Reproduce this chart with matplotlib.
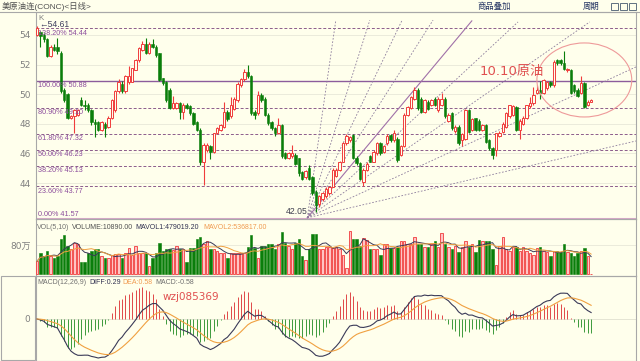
import matplotlib.pyplot as plt
from matplotlib.patches import Ellipse, Rectangle
from matplotlib.lines import Line2D
import numpy as np
import pandas as pd

plt.rcParams['font.family'] = ['DejaVu Sans', 'Noto Sans CJK SC']

# daily candles (美原油连)
opens = [54.0, 54.2, 54.0, 53.7, 52.6, 53.2, 53.2, 52.8, 50.3, 50.0,
         48.4, 48.5, 48.6, 49.6, 49.3, 49.3, 48.9, 48.1, 48.1, 47.6,
         48.0, 47.8, 48.4, 48.9, 50.2, 50.7, 50.2, 50.8, 50.85, 51.65,
         52.3, 53.0, 53.4, 52.8, 53.4, 53.2, 52.76, 51.07, 50.85, 50.3,
         49.05, 49.1, 49.4, 48.8, 49.3, 49.2, 48.7, 48.15, 47.6, 45.44,
         46.2, 46.5, 46.1, 47.36, 47.6, 47.8, 48.8, 48.5, 49.0, 49.6,
         50.6, 51.0, 51.5, 51.2, 48.8, 48.7, 49.95, 49.7, 48.6, 48.1,
         47.7, 47.36, 47.9, 46.0, 45.7, 45.8, 45.9, 45.67, 44.77, 44.4,
         45.0, 44.4, 43.4, 42.6, 42.9, 43.1, 43.3, 43.75, 44.5, 44.9,
         45.45, 46.7, 46.9, 47.24, 45.67, 45.33, 44.1, 44.9, 45.8, 45.45,
         46.0, 46.7, 46.1, 46.7, 47.24, 46.9, 47.0, 45.9, 46.5, 48.6,
         49.05, 49.7, 50.3, 49.7, 48.82, 49.5, 49.3, 49.7, 48.9, 49.3,
         49.7, 48.2, 48.7, 47.5, 47.8, 46.9, 47.0, 48.9, 47.6, 48.37,
         48.2, 47.6, 47.9, 46.9, 46.35, 46.2, 47.2, 47.47, 47.8, 48.5,
         48.6, 49.16, 47.6, 48.0, 48.4, 49.2, 49.4, 50.1, 50.3, 50.06,
         50.4, 50.8, 50.6, 52.3, 52.3, 52.1, 51.6, 51.6, 50.6, 50.3,
         50.06, 50.74, 49.3, 49.5]
closes = [54.45, 53.95, 53.7, 52.6, 53.2, 53.0, 52.9, 50.2, 49.6, 48.4,
          48.5, 48.9, 48.9, 49.3, 49.2, 48.9, 48.1, 48.0, 47.6, 48.1,
          47.7, 48.4, 49.6, 50.2, 50.85, 50.2, 51.2, 51.2, 51.75, 52.3,
          53.1, 53.4, 52.8, 53.4, 53.2, 52.65, 50.96, 50.74, 49.6, 49.05,
          49.4, 49.4, 48.8, 49.3, 49.1, 48.7, 48.0, 47.6, 45.44, 46.57,
          46.6, 46.1, 47.36, 47.7, 47.9, 48.8, 48.3, 49.3, 49.7, 50.7,
          51.0, 51.5, 51.2, 48.7, 48.6, 49.95, 49.6, 48.6, 48.03, 47.7,
          47.36, 47.9, 45.8, 45.7, 46.0, 46.0, 45.3, 44.66, 44.3, 44.8,
          44.3, 43.3, 42.5, 43.1, 43.3, 43.6, 43.75, 44.9, 44.9, 45.45,
          46.7, 47.2, 47.1, 45.67, 45.33, 44.3, 44.9, 45.3, 45.45, 46.1,
          46.7, 46.0, 46.5, 47.2, 46.9, 47.4, 45.56, 46.5, 48.6, 49.16,
          49.84, 50.3, 49.05, 48.82, 49.6, 49.0, 49.6, 49.3, 49.7, 49.7,
          48.5, 48.6, 47.7, 47.8, 46.7, 47.3, 48.9, 47.47, 48.3, 47.6,
          47.6, 47.9, 46.8, 46.35, 45.9, 47.36, 47.4, 48.0, 48.7, 49.27,
          49.2, 47.6, 48.2, 48.4, 49.27, 49.4, 49.95, 50.3, 50.1, 50.96,
          50.8, 50.6, 52.2, 52.1, 52.1, 51.7, 51.7, 50.06, 50.2, 49.9,
          50.74, 49.16, 49.5, 49.6]
highs = [54.61, 54.3, 54.1, 53.8, 53.3, 53.4, 53.8, 52.9, 50.4, 50.1,
         48.6, 49.0, 49.0, 49.8, 49.6, 49.4, 49.0, 48.3, 48.2, 48.2,
         48.1, 48.5, 49.7, 50.3, 51.0, 50.9, 51.3, 51.9, 51.8, 52.4,
         53.2, 53.6, 53.8, 53.5, 53.7, 53.3, 52.8, 51.1, 50.9, 50.4,
         49.9, 49.5, 49.5, 49.4, 49.4, 49.3, 48.8, 48.2, 47.7, 46.7,
         46.7, 46.6, 47.4, 47.8, 48.0, 49.5, 48.9, 49.8, 49.8, 50.8,
         51.1, 51.7, 52.0, 51.3, 48.9, 50.2, 50.1, 49.8, 48.7, 48.2,
         47.8, 48.4, 48.0, 46.1, 46.1, 46.6, 46.0, 45.7, 44.8, 44.9,
         45.2, 44.5, 43.5, 43.2, 43.4, 43.7, 43.8, 45.0, 45.0, 45.5,
         46.8, 47.3, 47.2, 47.3, 45.8, 45.4, 45.0, 45.4, 45.9, 46.2,
         46.8, 46.8, 46.6, 47.3, 47.3, 47.6, 47.1, 46.6, 48.7, 49.2,
         49.9, 50.5, 50.4, 49.8, 49.7, 49.6, 49.7, 49.8, 49.8, 50.1,
         49.8, 48.7, 48.8, 47.9, 47.9, 47.4, 49.0, 49.0, 48.4, 48.4,
         48.3, 48.0, 48.0, 47.0, 46.4, 47.4, 47.5, 48.1, 48.8, 49.3,
         49.3, 49.2, 48.3, 48.5, 49.3, 49.8, 50.5, 50.6, 50.9, 51.0,
         50.9, 50.9, 52.3, 52.4, 52.4, 52.9, 51.8, 51.7, 50.7, 50.4,
         51.2, 50.8, 49.6, 49.7]
lows = [53.9, 53.2, 53.5, 52.5, 52.5, 52.9, 52.7, 50.1, 49.5, 48.3,
        48.3, 47.35, 48.5, 49.2, 48.9, 48.8, 47.9, 47.1, 47.5, 47.5,
        47.1, 47.7, 48.3, 48.8, 50.1, 50.1, 50.1, 50.7, 50.8, 51.6,
        52.2, 52.9, 52.7, 52.7, 53.1, 52.5, 50.9, 50.6, 49.5, 49.0,
        49.0, 49.0, 48.3, 48.3, 49.0, 48.6, 47.9, 47.5, 45.2, 43.87,
        46.1, 45.6, 46.0, 47.3, 47.5, 47.7, 48.2, 48.4, 48.9, 49.5,
        50.5, 50.9, 51.1, 48.6, 48.3, 48.6, 49.5, 48.5, 47.9, 47.6,
        47.2, 47.3, 45.7, 45.6, 45.6, 45.7, 45.2, 44.5, 44.2, 44.3,
        44.2, 43.2, 42.05, 42.4, 42.8, 43.0, 43.2, 43.7, 44.4, 44.8,
        45.4, 46.6, 46.8, 45.6, 45.2, 44.2, 43.8, 44.8, 45.4, 45.4,
        45.9, 45.9, 46.0, 46.6, 46.8, 46.8, 45.4, 45.8, 46.4, 48.5,
        49.0, 49.6, 48.9, 48.7, 48.7, 48.9, 49.2, 49.2, 48.8, 49.2,
        48.4, 48.1, 47.6, 47.4, 46.6, 46.5, 46.9, 47.4, 47.5, 47.5,
        47.5, 47.5, 46.7, 46.2, 45.6, 45.8, 47.1, 47.4, 47.7, 48.4,
        48.5, 47.5, 47.0, 47.9, 48.3, 49.1, 49.3, 50.0, 49.7, 50.0,
        50.3, 50.5, 50.5, 52.0, 52.0, 51.6, 51.5, 50.0, 50.1, 49.8,
        50.0, 49.1, 49.2, 49.5]

# volume in 万
volumes = [36, 58, 50, 63, 50, 44, 50, 97, 108,
           77, 69, 86, 83, 33, 33, 58, 63, 69, 69,
           50, 44, 44, 52, 55, 55, 44, 58, 72,
           52, 77, 58, 58, 58, 22, 44, 58, 86,
           63, 69, 69, 66, 77, 69, 69, 33, 72,
           72, 97, 102, 83, 91, 69, 69, 63, 58, 58,
           44, 58, 58, 58, 58, 58, 75, 108, 72, 44,
           77, 77, 83, 83, 69, 83, 116, 86, 77, 69,
           86, 97, 50, 39, 69, 110, 110,
           69, 69, 75, 75, 72, 75, 69, 52, 17, 119,
           97, 97, 77, 99, 94, 69, 69, 69, 52, 83,
           83, 72, 72, 75, 91, 91, 83, 83, 102,
           83, 83, 75, 75, 83, 91, 75, 113, 83, 75,
           69, 77, 61, 75, 91, 75, 83, 61, 94,
           91, 91, 91, 69, 25, 77, 102, 69, 63, 75,
           75, 63, 75, 63, 58, 52, 72, 75, 63, 61,
           50, 63, 63, 61, 83, 61, 58, 50, 58, 63,
           72, 50, 1.09]

fib_pct = ['138.20%', '100.00%', '80.90%', '61.80%', '50.00%', '38.20%', '23.60%', '0.00%']
fib_val = [54.44, 50.88, 49.10, 47.32, 46.23, 45.13, 43.77, 41.57]
price_ticks = [44, 46, 48, 50, 52, 54]

# fan drawn from the low
fan_origin = (79.5, 41.65)
fan_end_x = [87.9, 97.9, 107.4, 116.5, 127.9, 141.5, 162.6, 176.2, 176.2]
fan_end_y = [55.0, 55.0, 55.0, 55.0, 54.95, 54.88, 54.88, 51.84, 46.84]
fan_solid = 4

W, H = 640, 361
bg = '#FFFFEC'
red = '#F03C3C'
green = '#0A7E0A'
gray = '#808080'
fib_col = '#8C5C8C'

fig = plt.figure(figsize=(6.4, 3.61), dpi=100, facecolor=bg)


def box(l, t, r, b):
    return [l / W, 1 - b / H, (r - l) / W, (b - t) / H]


def ftext(x, y, s, **kw):
    kw.setdefault('fontsize', 5.0)
    kw.setdefault('va', 'center')
    kw.setdefault('family', ['Liberation Sans', 'Noto Sans CJK SC'])
    fig.text(x / W, 1 - y / H, s, **kw)


ax = fig.add_axes(box(36, 12, 636, 219))
axv = fig.add_axes(box(36, 219, 636, 276), sharex=ax)
axm = fig.add_axes(box(36, 276, 636, 361), sharex=ax)
for a in (ax, axv, axm):
    a.set_facecolor('none')
    for sp in a.spines.values():
        sp.set_color('#A8A8A8')
        sp.set_linewidth(0.8)
    a.tick_params(length=0, labelsize=6.5, labelcolor=gray, pad=4)
    a.set_xticks([])

x = np.arange(len(closes))
o = np.array(opens)
c = np.array(closes)
h = np.array(highs)
l = np.array(lows)
up = c >= o

# price panel
ax.set_xlim(-0.3, 176.2)
ax.set_ylim(41.57, 55.55)
ax.set_yticks(price_ticks)
for t in price_ticks:
    ax.axhline(t, color='#E8E8D8', lw=0.6, zorder=0)

for pct, v in zip(fib_pct, fib_val):
    if pct == '100.00%':
        ax.axhline(v, color='#8C5C9C', lw=1.0, zorder=1)
    elif pct == '0.00%':
        ax.axhline(v, color='#D8A8C8', lw=2.2, zorder=1)
    else:
        ax.axhline(v, color=fib_col, lw=0.7, ls=(0, (3, 2)), zorder=1)
    if pct == '0.00%':
        ax.text(0.3, v + 0.06, f'{pct} {v:.2f}', fontsize=5.2, color='#8C4C9C',
                va='bottom', ha='left', family=['Liberation Sans'], zorder=5)
    else:
        ax.text(0.3, v - 0.08, f'{pct} {v:.2f}', fontsize=5.2, color='#8C4C9C',
                va='top', ha='left', family=['Liberation Sans'], zorder=5)

for k, (ex, ey) in enumerate(zip(fan_end_x, fan_end_y)):
    if k == fan_solid:
        ax.plot([fan_origin[0], ex], [fan_origin[1], ey], color='#A070A8', lw=0.8, zorder=2)
    else:
        ax.plot([fan_origin[0], ex], [fan_origin[1], ey], color='#8C7C9C', lw=0.6,
                ls=(0, (2, 2)), zorder=2)

ax.vlines(x, l, h, colors=np.where(up, red, green), lw=0.8, zorder=3)
body_bottom = np.minimum(o, c)
body_h = np.maximum(np.abs(c - o), 0.05)
ax.bar(x[up], body_h[up], bottom=body_bottom[up], width=0.72, facecolor=bg,
       edgecolor=red, lw=0.7, zorder=4)
ax.bar(x[~up], body_h[~up], bottom=body_bottom[~up], width=0.72, color=green,
       edgecolor=green, lw=0.4, zorder=4)

ax.add_patch(Ellipse((161.0, 50.96), 27.9, 5.0, fill=False, edgecolor='#EE9A9A', lw=0.8, zorder=5))
ax.text(130.3, 51.5, '10.10原油', fontsize=9.5, color='#E05050', va='center', ha='left',
        family=['DejaVu Sans', 'Noto Sans CJK SC'], zorder=6)

# volume panel
vol = np.array(volumes)
axv.set_ylim(-4.7, 152.6)
axv.set_yticks([80])
axv.set_yticklabels(['80万'], family=['DejaVu Sans', 'Noto Sans CJK SC'])
axv.axhline(80, color='#E8E8D8', lw=0.6, zorder=0)
axv.bar(x[up], vol[up], width=0.72, facecolor='#FFC4C4', edgecolor=red, lw=0.6, zorder=3)
axv.bar(x[~up], vol[~up], width=0.72, color=green, edgecolor=green, lw=0.4, zorder=3)
vs = pd.Series(vol)
axv.plot(x, vs.rolling(5, min_periods=1).mean(), color='#3A3A58', lw=0.7, zorder=4)
axv.plot(x, vs.rolling(10, min_periods=1).mean(), color='#F0A040', lw=0.7, zorder=4)

# MACD panel
cs = pd.Series(c)
diff = cs.ewm(span=12, adjust=False).mean() - cs.ewm(span=26, adjust=False).mean()
dea = diff.ewm(span=9, adjust=False).mean()
hist = 2 * (diff - dea)
m = max(diff.abs().max(), dea.abs().max(), hist.abs().max())
s = m * 42 / 39
axm.set_ylim(-s, s * 43 / 42)
axm.set_yticks([0])
axm.axhline(0, color='#E0E0D0', lw=0.6, zorder=0)
axm.vlines(x, 0, hist, colors=np.where(hist >= 0, '#E04848', '#3C9A3C'), lw=0.7, zorder=2)
axm.plot(x, diff, color='#3A3A58', lw=0.8, zorder=3)
axm.plot(x, dea, color='#F0A040', lw=0.8, zorder=3)

# frame pieces outside the panels
fig.add_artist(Line2D([0, 1], [1 - 12 / H, 1 - 12 / H], color='#A8A8A8', lw=0.8))
fig.add_artist(Rectangle((1 / W, 1 / H), 34 / W, 84 / H, fill=False, edgecolor='#A8A8A8', lw=0.8))
for bx in (611, 620, 629):
    fig.add_artist(Rectangle((bx / W, 1 - 10 / H), 7 / W, 7 / H, fill=False, edgecolor='#607080', lw=0.7))

# texts
ftext(2, 6, '美原油连(CONC)<日线>', color='#505050', fontsize=6)
ftext(477, 6.5, '商品叠加', color='#203060', fontsize=6)
ftext(583, 6.5, '周期', color='#203060', fontsize=6)
ftext(38, 18, 'K', color=gray, fontsize=5.8)
ftext(39, 24.5, '←54.61', color='#404060', fontsize=6.2)
ftext(308, 211, '42.05', color='#404050', fontsize=6.2, ha='right')

ftext(37, 227.5, 'VOL(5,10)', color='#707070')
ftext(72, 227.5, 'VOLUME:10890.00', color='#505050')
ftext(135, 227.5, 'MAVOL1:479019.20', color='#303050')
ftext(203, 227.5, 'MAVOL2:536817.00', color='#F09A50')

ftext(37, 283, 'MACD(12,26,9)', color='#707070')
ftext(89, 283, 'DIFF:0.29', color='#303050')
ftext(122, 283, 'DEA:0.58', color='#F09A50')
ftext(155, 283, 'MACD:-0.58', color='#707070')
ftext(163, 297, 'wzj085369', color='#E05050', fontsize=7.5, family=['DejaVu Sans'])

fig.savefig('out.png', dpi=100, facecolor=bg)
